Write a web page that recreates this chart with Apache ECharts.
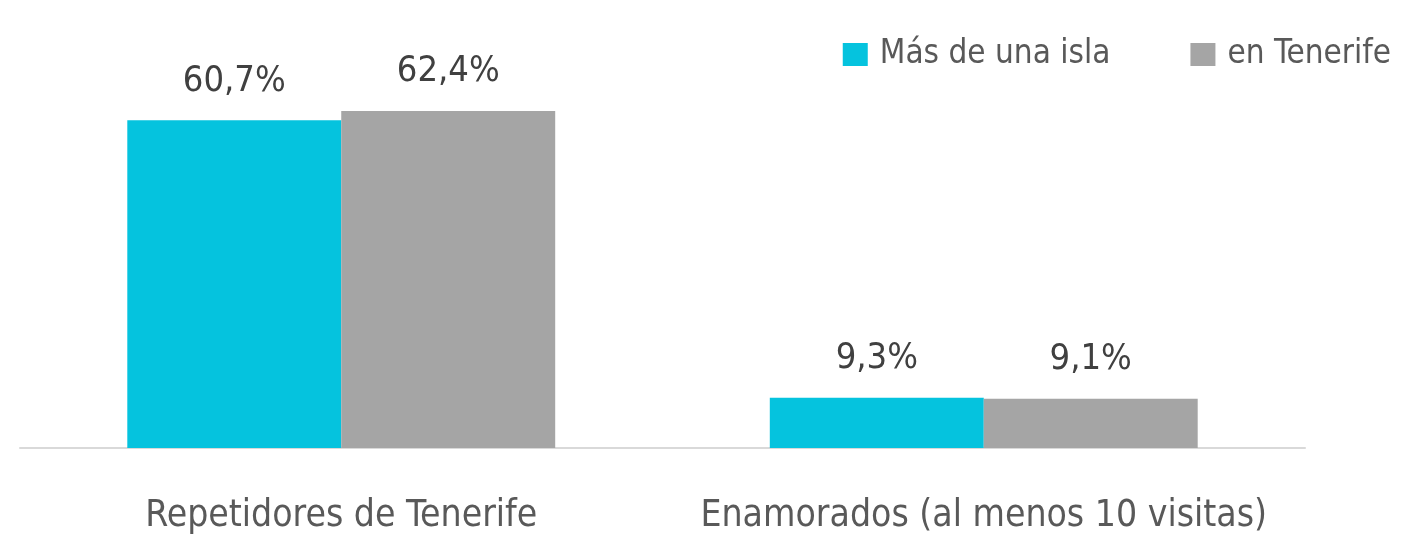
<!DOCTYPE html>
<html><head><meta charset="utf-8">
<script src="https://cdn.jsdelivr.net/npm/echarts@6/dist/echarts.min.js"></script>
<style>html,body{margin:0;padding:0;background:#fff}#c{width:1426px;height:538px}</style>
</head><body><div id="c"></div>
<script>
const categories = ['Repetidores de Tenerife', 'Enamorados (al menos 10 visitas)'];
const seriesNames = ['Más de una isla', 'en Tenerife'];
const masDeUnaIsla = [60.7, 9.3];
const enTenerife = [62.4, 9.1];
const FONT = '"DejaVu Sans Condensed", "Liberation Sans Narrow", sans-serif';
const fmt = p => p.value.toFixed(1).replace('.', ',') + '%';
const chart = echarts.init(document.getElementById('c'));
chart.setOption({
  animation: false,
  textStyle: {fontFamily: FONT},
  legend: {
    right: 30, top: 33, itemWidth: 25, itemHeight: 23, itemGap: 80,
    icon: 'rect',
    textStyle: {fontFamily: FONT, fontSize: 33, color: '#595959', padding: [0, 0, 0, 7]},
    data: seriesNames
  },
  grid: {left: 20, right: 121, top: 16, bottom: 90},
  xAxis: {
    type: 'category', data: categories,
    axisLine: {lineStyle: {color: '#D9D9D9', width: 2}},
    axisTick: {show: false},
    axisLabel: {interval: 0, fontFamily: FONT, fontSize: 37, color: '#595959', margin: 50}
  },
  yAxis: {type: 'value', min: 0, max: 80, show: false, splitLine: {show: false}},
  series: [
    {name: seriesNames[0], type: 'bar', data: masDeUnaIsla, barWidth: '33.3%', barGap: '0%',
     itemStyle: {color: '#05C3DE'},
     label: {show: true, position: 'top', distance: 21, formatter: fmt, fontFamily: FONT, fontSize: 36, color: '#404040'}},
    {name: seriesNames[1], type: 'bar', data: enTenerife, barWidth: '33.3%', barGap: '0%',
     itemStyle: {color: '#A5A5A5'},
     label: {show: true, position: 'top', distance: 21, formatter: fmt, fontFamily: FONT, fontSize: 36, color: '#404040'}}
  ]
});
</script></body></html>
